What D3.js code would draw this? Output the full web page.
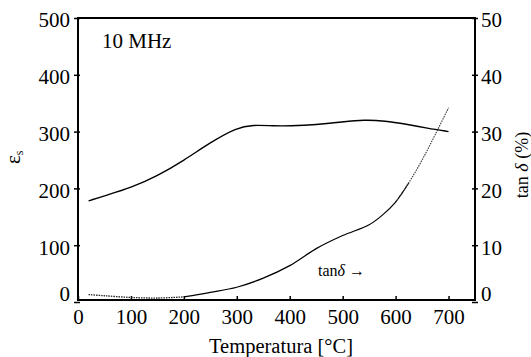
<!DOCTYPE html>
<html>
<head>
<meta charset="utf-8">
<script src="https://cdn.jsdelivr.net/npm/d3@7"></script>
</head>
<body style="margin:0; background:#fff">
<script>
// data
var epsTemps = [20, 50, 100, 150, 200, 250, 300, 330, 370, 400, 450, 500, 540, 580, 620, 660, 700];
var epsValues = [178, 187, 201, 222, 249, 281, 307, 312, 310, 310, 312, 317, 321, 319, 313, 306, 300];

var tanTemps = [20, 50, 100, 150, 200, 250, 300, 350, 400, 450, 500, 550, 575, 600, 625, 650, 675, 700];
var tanValues = [1.3, 1.1, 0.8, 0.7, 0.9, 1.7, 2.6, 4.2, 6.4, 9.4, 11.7, 13.6, 15.3, 17.6, 21, 25, 29.5, 34.2];

var xTicks = [0, 100, 200, 300, 400, 500, 600, 700];
var epsTicks = [0, 100, 200, 300, 400, 500];
var tanTicks = [0, 10, 20, 30, 40, 50];

var serif = "'Liberation Serif'";

var W = 531, H = 357;
var margin = {top: 18, right: 56, bottom: 57, left: 78};

var svg = d3.select("body").append("svg")
    .attr("width", W)
    .attr("height", H);

var x = d3.scaleLinear().domain([0, 750]).range([margin.left, W - margin.right]);
var yEps = d3.scaleLinear().domain([0, 500]).range([302, margin.top]);
var yTan = d3.scaleLinear().domain([0, 50]).range([302, margin.top]);

var bottom = H - margin.bottom;

// frame
svg.append("rect")
    .attr("x", margin.left)
    .attr("y", margin.top)
    .attr("width", W - margin.right - margin.left)
    .attr("height", bottom - margin.top)
    .attr("fill", "none")
    .attr("stroke", "#000")
    .attr("stroke-width", 2);

// bottom axis
svg.append("g")
    .attr("transform", "translate(0," + bottom + ")")
    .call(d3.axisBottom(x).tickValues(xTicks).tickSize(-4).tickPadding(9))
    .attr("font-family", null)
    .call(g => g.select(".domain").remove())
    .call(g => g.selectAll("line").attr("stroke-width", 1.5))
    .call(g => g.selectAll("text").style("font-family", serif).style("font-size", "21px"));

// left axis
svg.append("g")
    .attr("transform", "translate(" + margin.left + ",0)")
    .call(d3.axisLeft(yEps).tickValues(epsTicks).tickSize(4).tickPadding(4))
    .attr("font-family", null)
    .call(g => g.select(".domain").remove())
    .call(g => g.selectAll("line").attr("x2", -4).attr("x1", 2).attr("stroke-width", 1.5))
    .call(g => g.selectAll("text")
        .style("font-family", serif).style("font-size", "21px")
        .attr("dy", d => d === 0 ? "-0.05em" : "0.42em"));

// right axis
svg.append("g")
    .attr("transform", "translate(" + (W - margin.right) + ",0)")
    .call(d3.axisRight(yTan).tickValues(tanTicks).tickSize(4).tickPadding(2))
    .attr("font-family", null)
    .call(g => g.select(".domain").remove())
    .call(g => g.selectAll("line").attr("x1", -3).attr("x2", 3).attr("stroke-width", 1.5))
    .call(g => g.selectAll("text")
        .style("font-family", serif).style("font-size", "21px")
        .attr("dy", d => d === 0 ? "-0.05em" : "0.42em"));

var epsData = epsTemps.map((t, i) => ({t: t, v: epsValues[i]}));
var tanData = tanTemps.map((t, i) => ({t: t, v: tanValues[i]}));

var epsLine = d3.line()
    .x(d => x(d.t))
    .y(d => yEps(d.v))
    .curve(d3.curveBasis);

var tanLine = d3.line()
    .x(d => x(d.t))
    .y(d => yTan(d.v))
    .curve(d3.curveCatmullRom);

svg.append("path")
    .datum(epsData)
    .attr("d", epsLine)
    .attr("fill", "none")
    .attr("stroke", "#000")
    .attr("stroke-width", 1.4);

// tan delta: dotted at the ends, solid in the middle
svg.append("path")
    .datum(tanData.filter(d => d.t <= 200))
    .attr("d", tanLine)
    .attr("fill", "none")
    .attr("stroke", "#222")
    .attr("stroke-width", 1.3)
    .attr("stroke-dasharray", "1.5,1");

svg.append("path")
    .datum(tanData.filter(d => d.t >= 200 && d.t <= 625))
    .attr("d", tanLine)
    .attr("fill", "none")
    .attr("stroke", "#000")
    .attr("stroke-width", 1.2);

svg.append("path")
    .datum(tanData.filter(d => d.t >= 600))
    .attr("d", tanLine)
    .attr("fill", "none")
    .attr("stroke", "#333")
    .attr("stroke-width", 1.1)
    .attr("stroke-dasharray", "1.5,1");

// labels
svg.append("text")
    .attr("x", 102)
    .attr("y", 48)
    .style("font-family", serif)
    .style("font-size", "21px")
    .text("10 MHz");

svg.append("text")
    .attr("x", 281)
    .attr("y", 353)
    .attr("text-anchor", "middle")
    .style("font-family", serif)
    .style("font-size", "20.5px")
    .text("Temperatura [°C]");

var epsLabel = svg.append("text")
    .attr("transform", "translate(20,164) rotate(-90)")
    .style("font-family", serif)
    .style("font-size", "21px");
epsLabel.append("tspan").text("ε");
epsLabel.append("tspan").style("font-size", "12px").attr("dy", 3).text("s");

var tanLabel = svg.append("text")
    .attr("transform", "translate(528,165) rotate(-90)")
    .attr("text-anchor", "middle")
    .style("font-family", serif)
    .style("font-size", "18px");
tanLabel.append("tspan").text("tan ");
tanLabel.append("tspan").style("font-style", "italic").text("δ");
tanLabel.append("tspan").text(" (%)");

var ann = svg.append("text")
    .attr("x", 318)
    .attr("y", 276)
    .style("font-family", serif)
    .style("font-size", "16px");
ann.append("tspan").text("tan");
ann.append("tspan").style("font-style", "italic").text("δ");
ann.append("tspan").text(" →");
</script>
</body>
</html>
